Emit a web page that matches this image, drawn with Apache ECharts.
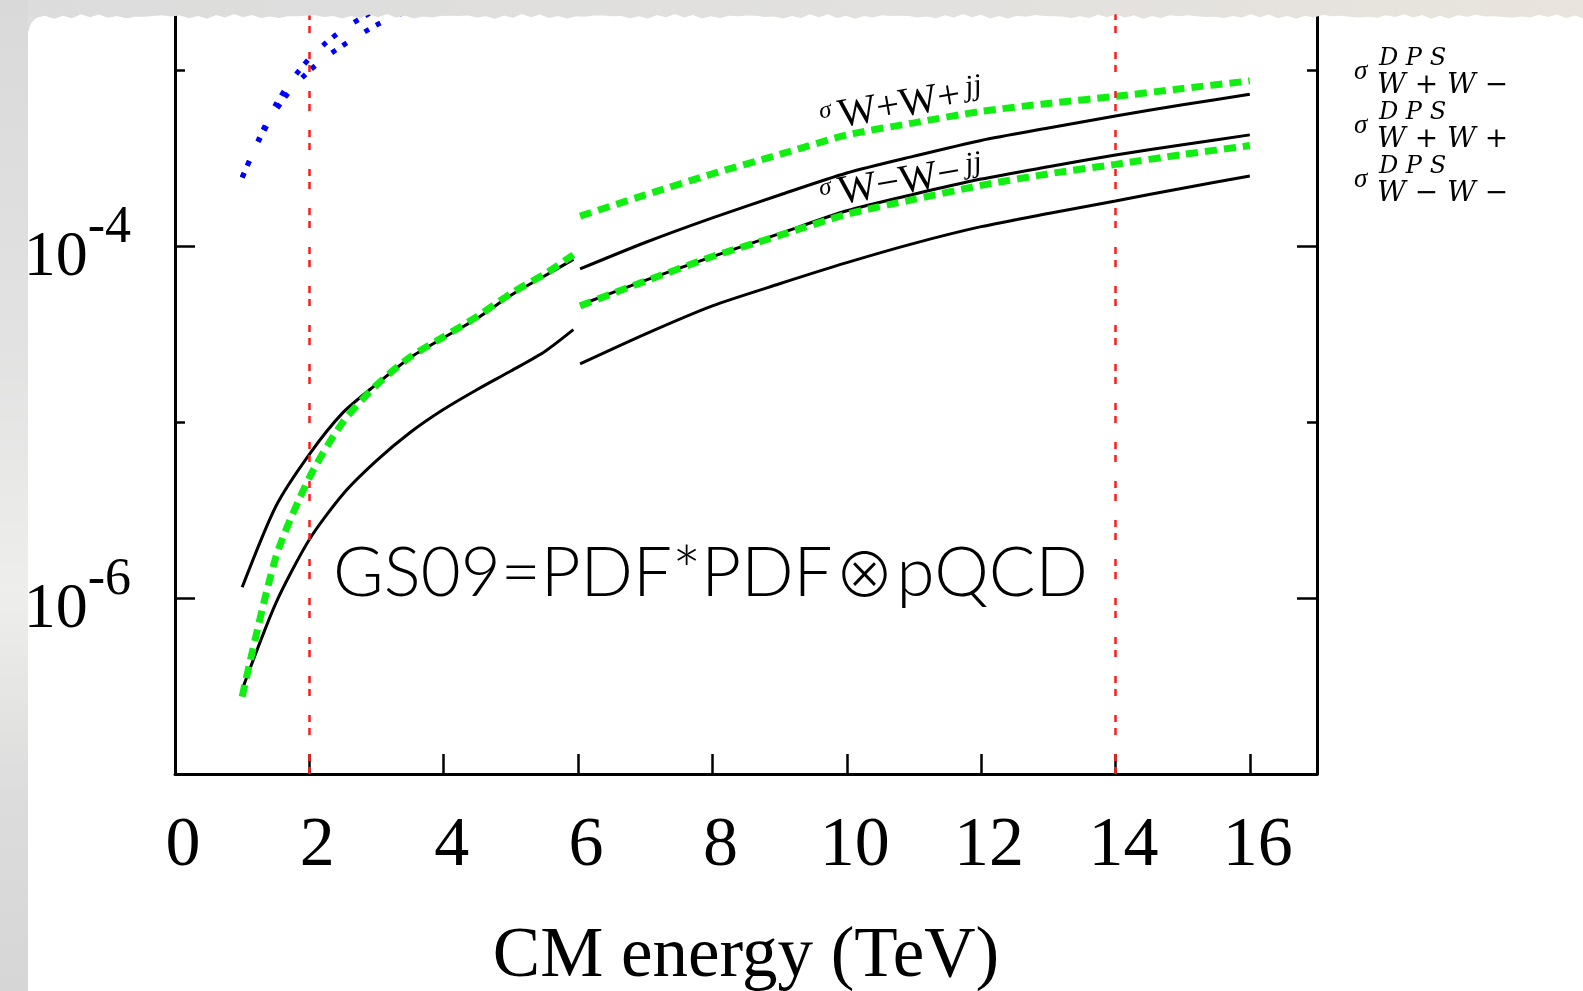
<!DOCTYPE html>
<html>
<head>
<meta charset="utf-8">
<style>
  html, body { margin: 0; padding: 0; background: #fff; }
  #chart { width: 1583px; height: 991px; }
</style>
<script src="https://cdn.jsdelivr.net/npm/echarts@6.0.0/dist/echarts.min.js"></script>
</head>
<body>
<div id="chart"></div>
<script>
// --- data (x in TeV, y in the log-scale units) ---
const xLeft = [1, 1.5, 2, 2.5, 3, 3.5, 4, 4.5, 5, 5.5, 5.93]
const blackLeftUpper = [1.15e-6, 3.31e-6, 6.55e-6, 1.13e-5, 1.64e-5, 2.32e-5, 3.01e-5, 3.89e-5, 5.25e-5, 6.76e-5, 8.39e-5]
const blackLeftLower = [3.02e-7, 9.33e-7, 2.15e-6, 3.89e-6, 6.03e-6, 8.71e-6, 1.18e-5, 1.53e-5, 1.95e-5, 2.51e-5, 3.35e-5]
const greenLeft = [2.75e-7, 1.70e-6, 4.83e-6, 1.0e-5, 1.62e-5, 2.34e-5, 3.05e-5, 3.98e-5, 5.37e-5, 6.92e-5, 8.91e-5]

const xRight = [6.03, 7, 8, 9, 10, 11, 12, 13, 14, 15, 16]
const greenRightUpper = [1.479e-4, 1.95e-4, 2.57e-4, 3.31e-4, 4.27e-4, 5.01e-4, 5.82e-4, 6.46e-4, 7.08e-4, 7.85e-4, 8.67e-4]
const blackRightUpper = [7.41e-5, 1.047e-4, 1.445e-4, 1.95e-4, 2.60e-4, 3.24e-4, 3.98e-4, 4.68e-4, 5.48e-4, 6.34e-4, 7.28e-4]
const blackRightMiddle = [4.62e-5, 6.38e-5, 8.71e-5, 1.175e-4, 1.585e-4, 1.97e-4, 2.40e-4, 2.82e-4, 3.29e-4, 3.76e-4, 4.28e-4]
const greenRightLower = [4.57e-5, 6.31e-5, 8.71e-5, 1.148e-4, 1.514e-4, 1.84e-4, 2.21e-4, 2.57e-4, 2.91e-4, 3.31e-4, 3.72e-4]
const blackRightLower = [2.14e-5, 3.16e-5, 4.57e-5, 6.10e-5, 8.04e-5, 1.035e-4, 1.288e-4, 1.531e-4, 1.803e-4, 2.13e-4, 2.50e-4]

const xBlueA = [1, 1.25, 1.5, 1.75, 2, 2.25, 2.5, 2.75, 3]
const blueA = [2.45e-4, 4.07e-4, 6.38e-4, 8.91e-4, 1.161e-3, 1.429e-3, 1.70e-3, 1.95e-3, 2.21e-3]
const xBlueB = [1, 1.25, 1.5, 1.75, 2, 2.25, 2.5, 2.75, 3, 3.25, 3.5]
const blueB = [2.45e-4, 3.98e-4, 5.89e-4, 7.94e-4, 9.89e-4, 1.189e-3, 1.380e-3, 1.585e-3, 1.80e-3, 2.00e-3, 2.19e-3]

const cmLines = [2, 14]
const xTicks = [0, 2, 4, 6, 8, 10, 12, 14, 16]
const dpsLabels = ['W + W \u2212', 'W + W +', 'W \u2212 W \u2212']

const BLACK = '#000'
const GREEN = '#11ee11'
const SERIF = 'Liberation Serif'

function pairs(xs, ys) {
  return xs.map((x, i) => [x, ys[i]])
}

function solid(name, xs, ys) {
  return {
    name: name,
    type: 'line',
    symbol: 'none',
    smooth: 0.25,
    data: pairs(xs, ys),
    lineStyle: { color: BLACK, width: 3 },
    z: 3
  }
}

function dashed(name, xs, ys) {
  return {
    name: name,
    type: 'line',
    symbol: 'none',
    smooth: 0.25,
    data: pairs(xs, ys),
    lineStyle: { color: GREEN, width: 7, type: [12, 7] },
    z: 4
  }
}

function dotted(name, xs, ys) {
  return {
    name: name,
    type: 'line',
    symbol: 'none',
    smooth: 0.25,
    data: pairs(xs, ys),
    lineStyle: { color: '#0000ff', width: 5, type: [5, 8, 5, 21] },
    z: 3
  }
}

function logAxis(extra) {
  return Object.assign({
    type: 'log',
    min: 1e-7,
    max: 1e-2,
    splitLine: { show: false },
    axisLabel: { show: false }
  }, extra)
}

// right-hand labels sigma^DPS_(...)
function dpsGraphics() {
  const out = []
  dpsLabels.forEach((lab, i) => {
    const dy = i * 54
    out.push({ type: 'text', x: 1354, y: 72 + dy, z: 20,
      style: { text: '\u03c3', fontFamily: SERIF, fontStyle: 'italic', fontSize: 27, fill: BLACK, verticalAlign: 'middle' } })
    out.push({ type: 'text', x: 1379, y: 59 + dy, z: 20,
      style: { text: 'D P S', fontFamily: 'DejaVu Serif', fontStyle: 'italic', fontSize: 24, fill: BLACK, verticalAlign: 'middle' } })
    out.push({ type: 'text', x: 1377, y: 86 + dy, z: 20,
      style: { text: lab, fontFamily: 'DejaVu Serif', fontStyle: 'italic', fontSize: 28, fill: BLACK, verticalAlign: 'middle' } })
  })
  return out
}

function sigmaJJ(y, sub) {
  return {
    type: 'text', x: 824, y: y, rotation: 0.17, z: 20,
    style: {
      text: '{s|\u03c3}{w|' + sub + '}{j|jj}',
      align: 'left',
      verticalAlign: 'bottom',
      fill: BLACK,
      rich: {
        s: { fontFamily: SERIF, fontStyle: 'italic', fontSize: 25, verticalAlign: 'bottom', padding: [0, 6, 16, 0] },
        w: { fontFamily: SERIF, fontSize: 41, verticalAlign: 'bottom' },
        j: { fontFamily: SERIF, fontStyle: 'italic', fontSize: 30, verticalAlign: 'bottom', padding: [0, 0, 12, 6] }
      }
    }
  }
}

const edge = []
for (let x = 0; x <= 1590; x += 9) {
  edge.push([x, 16.5 + 1.6 * Math.sin(x * 0.37) + 0.9 * Math.sin(x * 1.31)])
}

const chart = echarts.init(document.getElementById('chart'))

const option = {
  backgroundColor: '#ffffff',
  animation: false,
  grid: [
    { left: 175, right: 266, top: -106, bottom: 217, outerBoundsMode: 'none', containLabel: false },
    { left: 175, right: 266, top: -106, bottom: 217, outerBoundsMode: 'none', containLabel: false }
  ],
  xAxis: [
    {
      gridIndex: 0,
      type: 'value',
      min: 0,
      max: 17,
      interval: 2,
      name: 'CM energy (TeV)',
      nameLocation: 'middle',
      nameGap: 148,
      nameTextStyle: { fontFamily: SERIF, fontSize: 71, color: BLACK },
      axisLine: { lineStyle: { color: BLACK, width: 3 } },
      axisTick: { inside: true, length: 20, lineStyle: { color: BLACK, width: 2.5 } },
      splitLine: { show: false },
      axisLabel: {
        fontFamily: SERIF,
        fontSize: 70,
        color: BLACK,
        margin: 38,
        padding: [0, 0, 0, 16],
        formatter: v => (xTicks.indexOf(v) >= 0 ? String(v) : '')
      }
    },
    { gridIndex: 1, type: 'value', min: 0, max: 17, show: false }
  ],
  yAxis: [
    // decade ticks (short) on both sides
    logAxis({
      gridIndex: 0, position: 'left',
      axisLine: { lineStyle: { color: BLACK, width: 3 } },
      axisTick: { inside: true, length: 10, lineStyle: { color: BLACK, width: 2.5 } }
    }),
    logAxis({
      gridIndex: 0, position: 'right',
      axisLine: { lineStyle: { color: BLACK, width: 3 } },
      axisTick: { inside: true, length: 10, lineStyle: { color: BLACK, width: 2.5 } }
    }),
    // every second decade: long ticks + labels
    logAxis({
      gridIndex: 1, position: 'left', logBase: 100,
      axisLine: { show: false },
      axisTick: { inside: true, length: 20, lineStyle: { color: BLACK, width: 2.5 } },
      axisLabel: {
        show: true,
        margin: 44,
        color: BLACK,
        formatter: function (v) {
          const e = Math.round(Math.log10(v))
          if (e % 2 !== 0 || e < -6 || e > -4) return ''
          return '{b|10}{e|' + e + '}'
        },
        rich: {
          b: { fontFamily: SERIF, fontSize: 64, color: BLACK, verticalAlign: 'bottom' },
          e: { fontFamily: SERIF, fontSize: 52, color: BLACK, verticalAlign: 'bottom', padding: [0, 0, 36, 0] }
        }
      }
    }),
    logAxis({
      gridIndex: 1, position: 'right', logBase: 100,
      axisLine: { show: false },
      axisTick: { inside: true, length: 20, lineStyle: { color: BLACK, width: 2.5 } }
    })
  ],
  series: [
    Object.assign(solid('left upper', xLeft, blackLeftUpper), {
      markLine: {
        silent: true,
        symbol: 'none',
        label: { show: false },
        lineStyle: { color: '#ff1a1a', width: 2.5, type: [7, 6, 7, 19] },
        data: cmLines.map(x => ({ xAxis: x }))
      }
    }),
    solid('left lower', xLeft, blackLeftLower),
    dashed('left green', xLeft, greenLeft),
    solid('right upper', xRight, blackRightUpper),
    solid('right middle', xRight, blackRightMiddle),
    solid('right lower', xRight, blackRightLower),
    dashed('right green upper', xRight, greenRightUpper),
    dashed('right green lower', xRight, greenRightLower),
    dotted('blue a', xBlueA, blueA),
    dotted('blue b', xBlueB, blueB)
  ],
  graphic: [
    // paper edges
    { type: 'rect', z: 98, shape: { x: 28, y: 15, width: 16, height: 16 }, style: { fill: '#dedede' } },
    { type: 'circle', z: 99, shape: { cx: 44, cy: 31, r: 15 }, style: { fill: '#ffffff' } },
    {
      type: 'polygon', z: 100,
      shape: { points: [[0, 0]].concat(edge, [[1590, 0]]) },
      style: {
        fill: { type: 'linear', x: 0, y: 0, x2: 1, y2: 0,
          colorStops: [{ offset: 0, color: '#dcdcdc' }, { offset: 0.6, color: '#e2e1df' }, { offset: 1, color: '#e9e4dd' }] }
      }
    },
    {
      type: 'rect', z: 100,
      shape: { x: 0, y: 0, width: 28, height: 991 },
      style: {
        fill: { type: 'linear', x: 0, y: 0, x2: 0, y2: 1,
          colorStops: [
            { offset: 0, color: '#d9d9d9' }, { offset: 0.35, color: '#e2e2e2' },
            { offset: 0.6, color: '#eeeeec' }, { offset: 0.8, color: '#dcdcdc' }, { offset: 1, color: '#d6d6d6' }
          ] }
      }
    },
    {
      type: 'text', x: 333, y: 574, z: 20,
      style: {
        text: '{a|GS09=PDF*PDF}{o|\u2297}{a|pQCD}',
        verticalAlign: 'middle',
        fill: BLACK,
        rich: {
          a: { fontFamily: 'Lato', fontWeight: 300, fontSize: 69 },
          o: { fontFamily: '"Noto Sans CJK JP", "DejaVu Sans"', fontWeight: 300, fontSize: 60, padding: [0, 2, 0, 2] }
        }
      }
    },
    sigmaJJ(140, 'W+W+'),
    sigmaJJ(217, 'W\u2212W\u2212')
  ].concat(dpsGraphics())
}

chart.setOption(option)
</script>
</body>
</html>
